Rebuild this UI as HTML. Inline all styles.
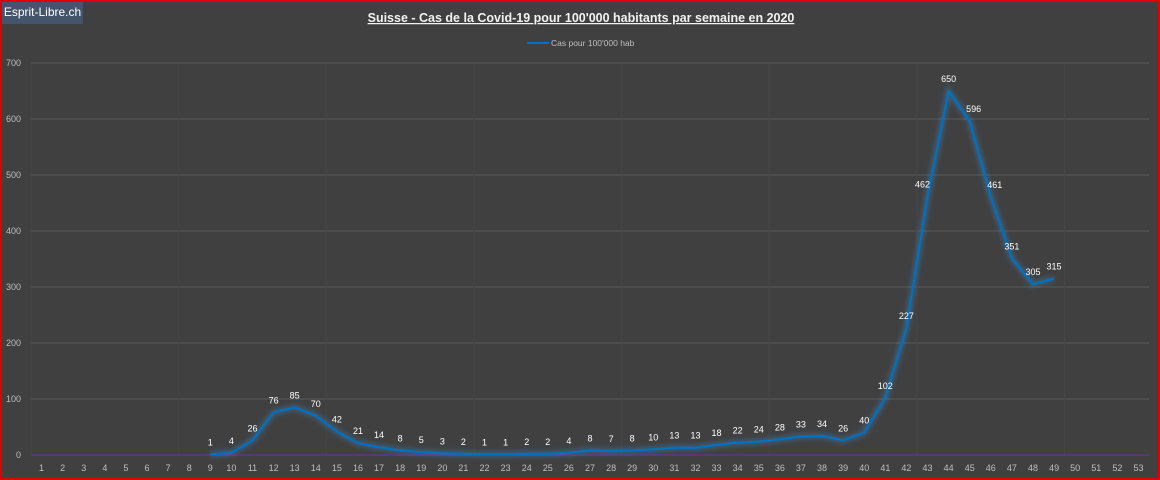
<!DOCTYPE html>
<html><head><meta charset="utf-8"><style>
html,body{margin:0;padding:0;background:#404040;}
#wrap{position:relative;width:1160px;height:480px;box-sizing:border-box;border:2px solid #e00000;background:#404040;overflow:hidden;font-family:"Liberation Sans",sans-serif;}
#brand{position:absolute;left:0;top:0;width:81px;height:22px;background:#44546a;color:#fff;font-size:12px;line-height:20px;text-align:center;white-space:nowrap;}
</style></head><body>
<div id="wrap">
<svg width="1160" height="480" style="position:absolute;left:-2px;top:-2px">
<defs><filter id="glow" x="-10%" y="-10%" width="120%" height="120%"><feGaussianBlur stdDeviation="2.5"/></filter></defs>
<text x="581" y="22" text-anchor="middle" fill="#f2f2f2" font-size="12.5" font-weight="bold" text-decoration="underline" font-family="Liberation Sans, sans-serif">Suisse - Cas de la Covid-19 pour 100'000  habitants par semaine en 2020</text>
<g>
<line x1="527" y1="43" x2="549" y2="43" stroke="#0070c0" stroke-width="2"/>
<text x="551" y="46" fill="#bfbfbf" font-size="8.5" font-family="Liberation Sans, sans-serif">Cas pour 100'000 hab</text>
</g>
<g id="grid"></g><g id="axes"></g><g id="series"></g>
</svg>
<div id="brand">Esprit-Libre.ch</div>
</div>
<script>
const categories=[];for(let i=1;i<=53;i++)categories.push(i);
const startWeek=9;
const values=[1,4,26,76,85,70,42,21,14,8,5,3,2,1,1,2,2,4,8,7,8,10,13,13,18,22,24,28,33,34,26,40,102,227,462,650,596,461,351,305,315];
const yTicks=[0,100,200,300,400,500,600,700];
const X0=31,X1=1149,Y0=455,Y1=63,YMAX=700;
const step=(X1-X0)/categories.length;
const xs=i=>X0+(i+0.5)*step;
const ys=v=>Y0-(v/YMAX)*(Y0-Y1);
const NS="http://www.w3.org/2000/svg";
function mk(t,a,p){const e=document.createElementNS(NS,t);for(const k in a)e.setAttribute(k,a[k]);p.appendChild(e);return e;}
const grid=document.getElementById('grid'),axes=document.getElementById('axes'),ser=document.getElementById('series');
yTicks.forEach(v=>{
 if(v>0){const l=mk('line',{x1:X0,x2:X1,y1:ys(v),y2:ys(v),stroke:'#5a5a5a','stroke-width':1},grid);
 
 }
 const t=mk('text',{x:21,y:ys(v)+3,'text-anchor':'end',fill:'#bfbfbf','font-size':9,'font-family':'Liberation Sans, sans-serif'},axes);
 t.textContent=v;
 
 
});
for(let k=0;k<categories.length;k+=7){const l=mk('line',{x1:X0+k*step,x2:X0+k*step,y1:Y1,y2:Y0,stroke:'#464646','stroke-width':1},grid);
 
 }
const ax=mk('line',{x1:X0,x2:X1,y1:Y0,y2:Y0,stroke:'#7030a0','stroke-width':1},axes);


categories.forEach((c,i)=>{const t=mk('text',{x:xs(i),y:471,'text-anchor':'middle',fill:'#bfbfbf','font-size':9,'font-family':'Liberation Sans, sans-serif'},axes);
 t.textContent=c;
 
 });
const pts=values.map((v,j)=>[xs(startWeek-1+j),ys(v)]);
const d=pts.map((p,j)=>(j?'L':'M')+p[0].toFixed(1)+','+p[1].toFixed(1)).join(' ');
const g=mk('path',{d:d,fill:'none',stroke:'#3a8fd8','stroke-width':6,'stroke-opacity':0.35,filter:'url(#glow)'},ser);


const ln=mk('path',{d:d,fill:'none',stroke:'#0070c0','stroke-width':2.2,'stroke-linejoin':'round'},ser);


values.forEach((v,j)=>{const w=startWeek+j;let dx=0;if(w===45||w===46)dx=4;if(w===43)dx=-5;
 const t=mk('text',{x:pts[j][0]+dx,y:pts[j][1]-9,'text-anchor':'middle',fill:'#ffffff','font-size':9,'font-family':'Liberation Sans, sans-serif'},ser);
 t.textContent=v;
 
 });
</script>
</body></html>
